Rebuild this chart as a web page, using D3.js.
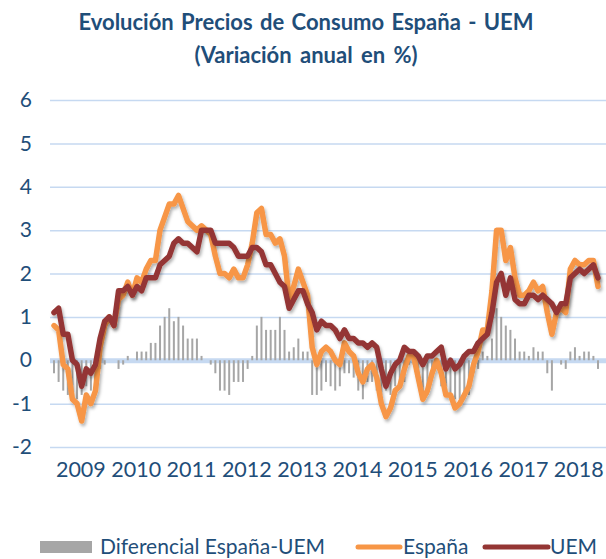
<!DOCTYPE html>
<html lang="es">
  <head>
    <meta charset="UTF-8" />
    <title>Evolución Precios de Consumo España - UEM</title>
    <style>
      body { margin: 0; background: #fff; }
      svg { display: block; font-family: Lato, "Open Sans", sans-serif; }
    </style>
  </head>
  <body>
    <div id="chart"></div>
    <script src="https://cdn.jsdelivr.net/npm/d3@7/dist/d3.min.js"></script>
    <script>
      // meses ene 2009 - nov 2018
      const years = ["2009", "2010", "2011", "2012", "2013", "2014", "2015", "2016", "2017", "2018"];
      const yTicks = [-2, -1, 0, 1, 2, 3, 4, 5, 6];

      const espana = [
        0.8, 0.7, -0.1, -0.2, -0.9, -1.0, -1.4, -0.8, -1.0, -0.7, 0.3, 0.8,
        1.0, 0.8, 1.4, 1.5, 1.8, 1.5, 1.9, 1.8, 2.1, 2.3, 2.3, 3.0,
        3.3, 3.6, 3.6, 3.8, 3.5, 3.2, 3.1, 3.0, 3.1, 3.0, 2.9, 2.4,
        2.0, 2.0, 1.9, 2.1, 1.9, 1.9, 2.2, 2.7, 3.4, 3.5, 2.9, 2.9,
        2.7, 2.8, 2.4, 1.4, 1.7, 2.1, 1.8, 1.5, 0.3, -0.1, 0.2, 0.3,
        0.2, 0.0, -0.1, 0.4, 0.2, 0.1, -0.3, -0.5, -0.2, -0.1, -0.4, -1.0,
        -1.3, -1.1, -0.7, -0.6, -0.2, 0.1, 0.1, -0.4, -0.9, -0.7, -0.3, 0.0,
        -0.3, -0.8, -0.8, -1.1, -1.0, -0.8, -0.6, -0.1, 0.2, 0.7, 0.7, 1.6,
        3.0, 3.0, 2.3, 2.6, 1.9, 1.5, 1.5, 1.6, 1.8, 1.6, 1.7, 1.1,
        0.6, 1.1, 1.2, 1.1, 2.1, 2.3, 2.2, 2.2, 2.3, 2.3, 1.7
      ];

      const uem = [
        1.1, 1.2, 0.6, 0.6, 0.0, -0.1, -0.6, -0.2, -0.3, -0.1, 0.5, 0.9,
        1.0, 0.8, 1.6, 1.6, 1.7, 1.5, 1.7, 1.6, 1.9, 1.9, 1.9, 2.2,
        2.3, 2.4, 2.7, 2.8, 2.7, 2.7, 2.6, 2.5, 3.0, 3.0, 3.0, 2.7,
        2.7, 2.7, 2.7, 2.6, 2.4, 2.4, 2.4, 2.6, 2.6, 2.5, 2.2, 2.2,
        2.0, 1.8, 1.7, 1.2, 1.4, 1.6, 1.6, 1.3, 1.1, 0.7, 0.9, 0.8,
        0.8, 0.7, 0.5, 0.7, 0.5, 0.5, 0.4, 0.4, 0.3, 0.4, 0.3, -0.2,
        -0.6, -0.3, -0.1, 0.0, 0.3, 0.2, 0.2, 0.1, -0.1, 0.1, 0.1, 0.2,
        0.3, -0.2, 0.0, -0.2, -0.1, 0.1, 0.2, 0.2, 0.4, 0.5, 0.6, 1.1,
        1.8, 2.0, 1.5, 1.9, 1.4, 1.3, 1.3, 1.5, 1.5, 1.4, 1.5, 1.4,
        1.3, 1.1, 1.3, 1.3, 1.9, 2.0, 2.1, 2.0, 2.1, 2.2, 1.9
      ];

      const diferencial = [
        -0.3, -0.5, -0.7, -0.8, -0.9, -0.9, -0.8, -0.6, -0.7, -0.6, -0.2, -0.1,
        0.0, 0.0, -0.2, -0.1, 0.1, 0.0, 0.2, 0.2, 0.2, 0.4, 0.4, 0.8,
        1.0, 1.2, 0.9, 1.0, 0.8, 0.5, 0.5, 0.5, 0.1, 0.0, -0.1, -0.3,
        -0.7, -0.7, -0.8, -0.5, -0.5, -0.5, -0.2, 0.1, 0.8, 1.0, 0.7, 0.7,
        0.7, 1.0, 0.7, 0.2, 0.3, 0.5, 0.2, 0.2, -0.8, -0.8, -0.7, -0.5,
        -0.6, -0.7, -0.6, -0.3, -0.3, -0.4, -0.7, -0.9, -0.5, -0.5, -0.7, -0.8,
        -0.7, -0.8, -0.6, -0.6, -0.5, -0.1, -0.1, -0.5, -0.8, -0.8, -0.4, -0.2,
        -0.6, -0.6, -0.8, -0.9, -0.9, -0.9, -0.8, -0.3, -0.2, 0.2, 0.1, 0.5,
        1.2, 1.0, 0.8, 0.7, 0.5, 0.2, 0.2, 0.1, 0.3, 0.2, 0.2, -0.3,
        -0.7, 0.0, -0.1, -0.2, 0.2, 0.3, 0.1, 0.2, 0.2, 0.1, -0.2
      ];

      const width = 606, height = 559;
      const blue = "#1f4e79", grid = "#c6d9f1";
      const cOrange = "#f79646", cRed = "#943634", cGray = "#a6a6a6";

      const svg = d3.select("#chart").append("svg")
        .attr("width", width)
        .attr("height", height);

      const defs = svg.append("defs");
      defs.append("filter")
        .attr("id", "sombra")
        .attr("x", "-10%").attr("y", "-10%")
        .attr("width", "120%").attr("height", "130%")
        .append("feDropShadow")
        .attr("dx", 1.5).attr("dy", 2.5)
        .attr("stdDeviation", 1.5)
        .attr("flood-color", "#000")
        .attr("flood-opacity", 0.3);

      // titulo
      svg.append("text")
        .attr("x", 306).attr("y", 30)
        .attr("text-anchor", "middle")
        .attr("font-size", 22).attr("font-weight", "bold")
        .attr("word-spacing", 2)
        .attr("fill", blue)
        .text("Evolución Precios de Consumo España - UEM");
      svg.append("text")
        .attr("x", 306).attr("y", 63)
        .attr("text-anchor", "middle")
        .attr("font-size", 22).attr("font-weight", "bold")
        .attr("word-spacing", 3)
        .attr("fill", blue)
        .text("(Variación anual en %)");

      const n = espana.length;
      const x = d3.scaleLinear().domain([0, n - 1]).range([54, 598]);
      const y = d3.scaleLinear().domain([-2, 6]).range([447, 100]);

      // rejilla
      const yAxis = d3.axisLeft(y)
        .tickValues(yTicks)
        .tickFormat(d => String(d))
        .tickSize(-556)
        .tickPadding(18);
      const gy = svg.append("g").attr("transform", "translate(50,0)").call(yAxis);
      gy.select(".domain").remove();
      gy.selectAll(".tick line")
        .attr("stroke", grid)
        .attr("stroke-width", d => (d === 0 ? 5 : 1.5));
      gy.selectAll(".tick text")
        .attr("font-size", 21)
        .attr("font-family", "Lato, 'Open Sans', sans-serif")
        .attr("fill", blue);

      // etiquetas de años, centradas en cada año
      const xAxis = d3.axisBottom(x)
        .tickValues(years.map((d, i) => i * 12 + 5.5))
        .tickFormat((d, i) => years[i])
        .tickSize(0)
        .tickPadding(0);
      const gx = svg.append("g").attr("transform", "translate(1,462)").call(xAxis);
      gx.select(".domain").remove();
      gx.selectAll(".tick text")
        .attr("font-size", 21.5)
        .attr("font-family", "Lato, 'Open Sans', sans-serif")
        .attr("fill", blue);

      // barras del diferencial
      svg.append("g")
        .selectAll("rect")
        .data(diferencial)
        .join("rect")
        .attr("x", (d, i) => x(i) - 1)
        .attr("width", 2)
        .attr("y", d => y(Math.max(0, d)))
        .attr("height", d => Math.abs(y(d) - y(0)))
        .attr("fill", cGray);

      const line = d3.line()
        .x((d, i) => x(i))
        .y(d => y(d));

      svg.append("path")
        .datum(espana)
        .attr("d", line)
        .attr("fill", "none")
        .attr("stroke", cOrange)
        .attr("stroke-width", 5.5)
        .attr("stroke-linejoin", "round")
        .attr("stroke-linecap", "round")
        .attr("filter", "url(#sombra)");

      svg.append("path")
        .datum(uem)
        .attr("d", line)
        .attr("fill", "none")
        .attr("stroke", cRed)
        .attr("stroke-width", 5.5)
        .attr("stroke-linejoin", "round")
        .attr("stroke-linecap", "round")
        .attr("filter", "url(#sombra)");

      // leyenda
      const leg = svg.append("g").attr("font-size", 21).attr("fill", blue);
      leg.append("rect")
        .attr("x", 40).attr("y", 541)
        .attr("width", 52).attr("height", 12)
        .attr("fill", cGray);
      leg.append("text").attr("x", 100).attr("y", 554).text("Diferencial España-UEM");
      leg.append("line")
        .attr("x1", 358).attr("x2", 400).attr("y1", 547).attr("y2", 547)
        .attr("stroke", cOrange).attr("stroke-width", 5).attr("stroke-linecap", "round");
      leg.append("text").attr("x", 403).attr("y", 554).text("España");
      leg.append("line")
        .attr("x1", 485).attr("x2", 548).attr("y1", 547).attr("y2", 547)
        .attr("stroke", cRed).attr("stroke-width", 5).attr("stroke-linecap", "round");
      leg.append("text").attr("x", 550).attr("y", 554).text("UEM");
    </script>
  </body>
</html>
